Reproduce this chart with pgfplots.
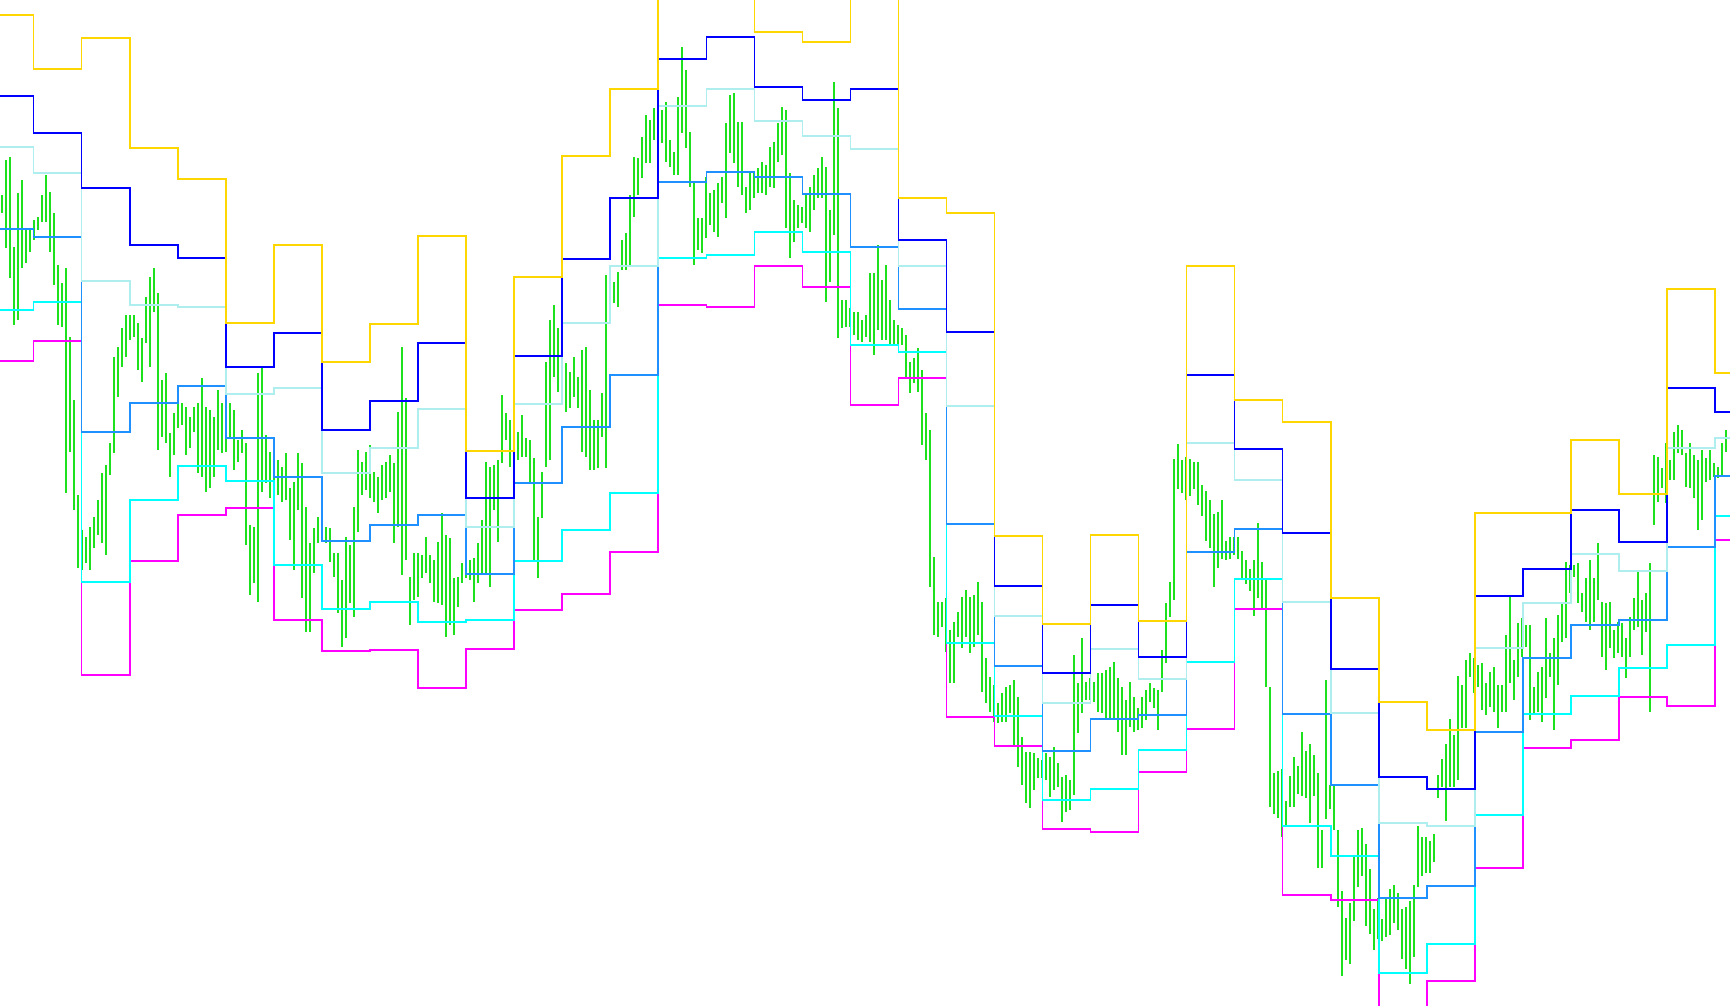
\documentclass[border=0pt]{standalone}
\usepackage{pgfplots}
\usepackage{pgfplotstable}
\pgfplotsset{compat=1.18}

\definecolor{barGreen}{RGB}{30,225,30}
\definecolor{rTwo}{RGB}{255,215,0}
\definecolor{rOne}{RGB}{0,0,255}
\definecolor{mid}{RGB}{175,238,238}
\definecolor{piv}{RGB}{30,144,255}
\definecolor{sOne}{RGB}{0,255,255}
\definecolor{sTwo}{RGB}{255,0,255}

% hourly bars: x, top, bottom (screen rows, y axis reversed)
\pgfplotstableread{
x lo hi
2 195 213
6 160 248
10 157 278
14 247 325
18 193 320
22 180 268
26 230 263
30 230 252
34 220 240
38 217 230
42 195 222
46 175 222
50 192 252
54 213 285
58 265 325
62 283 327
66 268 493
70 337 452
74 400 510
78 495 568
82 530 570
86 537 563
90 527 570
94 517 548
98 500 535
102 473 543
106 465 555
110 443 475
114 357 453
118 347 397
122 328 367
126 315 357
130 315 340
134 315 337
138 323 370
142 338 382
146 297 343
150 277 367
154 268 312
158 293 450
162 380 437
166 373 443
170 433 477
174 413 455
178 400 428
182 403 425
186 407 455
190 417 448
194 407 432
198 403 473
202 378 477
206 407 492
210 410 488
214 417 477
218 390 450
222 403 453
226 420 452
230 403 437
234 410 470
238 440 462
242 430 453
246 443 545
250 525 595
254 527 583
258 373 602
262 368 492
266 435 483
270 452 498
274 457 497
278 460 495
282 467 502
286 453 500
290 488 540
294 482 570
298 453 510
302 463 598
306 507 632
310 543 632
314 528 573
318 517 543
322 523 542
326 527 543
330 528 562
334 553 577
338 553 613
342 580 647
346 537 638
350 545 603
354 507 617
358 450 532
362 462 495
366 452 490
370 445 498
374 472 502
378 477 513
382 465 500
386 462 498
390 455 492
394 463 543
398 412 527
402 347 575
406 398 560
410 577 625
414 553 600
418 553 597
422 555 578
426 537 573
430 555 583
434 560 602
438 542 603
442 513 605
446 535 637
450 538 625
454 578 635
458 577 607
462 563 583
466 555 578
470 560 580
474 558 602
478 543 583
482 520 575
486 462 573
490 467 587
494 465 510
498 460 542
502 395 463
506 413 440
510 420 467
514 435 467
518 432 460
522 415 457
526 438 457
530 440 482
534 458 560
538 517 578
542 472 518
546 362 467
550 320 460
554 305 377
558 328 392
562 377 403
566 363 412
570 372 408
574 357 397
578 377 408
582 350 452
586 347 457
590 390 470
594 420 470
598 420 468
602 393 437
606 275 468
610 273 308
614 282 303
618 272 307
622 240 270
626 233 270
630 195 267
634 157 217
638 158 195
642 137 178
646 115 163
650 120 163
654 108 140
658 113 147
662 110 143
666 102 162
670 140 167
674 152 175
678 97 175
682 47 133
686 70 148
690 132 187
694 183 265
698 218 250
702 218 253
706 177 238
710 193 225
714 190 232
718 183 237
722 177 203
726 123 218
730 95 153
734 93 163
738 122 187
742 122 195
746 187 213
750 172 210
754 172 198
758 168 193
762 162 193
766 165 195
770 147 187
774 142 188
778 123 162
782 107 155
786 110 228
790 173 258
794 200 242
798 205 228
802 207 223
806 195 228
810 187 232
814 175 210
818 168 198
822 157 198
826 167 302
830 210 282
834 82 235
838 108 338
842 300 328
846 300 327
850 308 327
854 312 335
858 312 340
862 320 342
866 315 337
870 273 342
874 273 355
878 245 330
882 280 340
886 265 340
890 300 345
894 320 345
898 325 345
902 328 345
906 335 377
910 362 393
914 358 383
918 348 392
922 370 445
926 413 460
930 430 587
934 557 635
938 602 637
942 602 627
946 598 652
950 630 683
954 622 683
958 612 637
962 597 648
966 590 637
970 597 653
974 595 647
978 582 635
982 602 692
986 658 703
990 677 712
994 685 722
998 703 723
1002 693 722
1006 687 722
1010 685 713
1014 680 747
1018 697 767
1022 737 785
1026 752 803
1030 752 808
1034 753 790
1038 758 778
1042 760 778
1046 753 780
1050 757 797
1054 747 790
1058 763 787
1062 777 822
1066 775 812
1070 780 810
1074 655 795
1078 683 733
1082 638 713
1086 682 700
1090 678 700
1094 682 702
1098 673 712
1102 673 713
1106 670 718
1110 667 720
1114 662 718
1118 678 732
1122 687 755
1126 700 755
1130 682 727
1134 697 732
1138 708 730
1142 697 728
1146 690 720
1150 683 702
1154 688 708
1158 690 730
1162 650 692
1166 603 663
1170 582 617
1174 459 600
1178 444 489
1182 460 493
1186 457 500
1190 459 496
1194 462 489
1198 462 505
1202 485 516
1206 491 541
1210 500 548
1214 514 587
1218 512 568
1222 500 559
1226 541 560
1230 537 559
1234 537 555
1238 537 559
1242 551 578
1246 560 584
1250 569 591
1254 560 616
1258 523 598
1262 562 610
1266 580 687
1270 687 807
1274 773 814
1278 771 818
1282 769 837
1286 801 826
1290 776 807
1294 757 807
1298 766 794
1302 732 796
1306 751 798
1310 744 823
1314 755 796
1318 773 868
1322 830 868
1326 680 819
1330 785 809
1334 785 830
1338 830 907
1342 891 976
1346 918 960
1350 903 964
1354 855 921
1358 830 887
1362 828 876
1366 844 926
1370 869 934
1374 909 950
1378 898 939
1382 919 941
1386 898 937
1390 889 935
1394 885 923
1398 893 930
1402 909 959
1406 907 969
1410 901 984
1414 885 957
1418 826 887
1422 837 876
1426 837 873
1430 841 873
1434 834 862
1438 775 798
1442 759 787
1446 744 821
1450 719 787
1454 735 787
1458 676 780
1462 685 728
1466 660 728
1470 653 677
1474 658 693
1478 665 687
1482 663 710
1486 683 715
1490 672 707
1494 667 712
1498 685 728
1502 685 712
1506 635 712
1510 597 683
1514 660 700
1518 623 677
1522 618 657
1526 625 647
1530 625 720
1534 687 715
1538 672 712
1542 667 722
1546 618 698
1550 653 677
1554 638 730
1558 615 685
1562 603 642
1566 562 638
1570 565 593
1574 565 577
1578 563 603
1582 593 612
1586 578 622
1590 560 630
1594 578 622
1598 543 600
1602 602 657
1606 603 670
1610 602 648
1614 630 658
1618 622 653
1622 623 657
1626 638 678
1630 617 657
1634 598 630
1638 572 627
1642 600 655
1646 593 632
1650 563 712
1654 455 525
1658 457 502
1662 468 488
1666 443 503
1670 460 480
1674 432 480
1678 425 453
1682 430 455
1686 453 487
1690 443 488
1694 455 498
1698 460 530
1702 450 520
1706 458 482
1710 450 480
1714 463 477
1718 467 478
1722 443 475
1726 430 452
}\bars

\begin{document}
\begin{tikzpicture}
\begin{axis}[
    width=17.3cm, height=10.05cm,
    scale only axis,
    hide axis,
    xmin=0, xmax=1730,
    ymin=0, ymax=1005,
    y dir=reverse,
    clip=true,
    every axis plot/.append style={line width=0.42pt},
  ]
  % price bars
  \addplot[draw=none, mark=none,
    error bars/.cd, y dir=plus, y explicit, error mark=none,
    error bar style={draw=barGreen, line width=0.6pt}]
    table[x=x, y=lo, y error expr=\thisrow{hi}-\thisrow{lo}] {\bars};

  % daily levels
  \addplot[const plot, sTwo] coordinates {
    (-10,361) (33.7,341) (81.7,675) (129.8,561) (177.8,515) (225.9,508)
    (273.9,620) (321.9,651) (370,650) (418,688) (466.1,649) (514.1,610)
    (562.1,594) (610.2,552) (658.2,305) (706.3,307) (754.3,266) (802.3,287)
    (850.4,405) (898.4,378) (946.5,717) (994.5,746) (1042.5,829) (1090.6,832)
    (1138.6,772) (1186.7,729) (1234.7,609) (1282.7,895) (1330.8,900) (1378.8,1040)
    (1426.9,981) (1474.9,868) (1522.9,748) (1571,740) (1619,697) (1667,706)
    (1715.1,540) (1740,540)};
  \addplot[const plot, sOne] coordinates {
    (-10,310) (33.7,302) (81.7,582) (129.8,500) (177.8,466) (225.9,481)
    (273.9,565) (321.9,609) (370,602) (418,622) (466.1,620) (514.1,561)
    (562.1,530) (610.2,493) (658.2,258) (706.3,255) (754.3,232) (802.3,252)
    (850.4,345) (898.4,352) (946.5,643) (994.5,716) (1042.5,800) (1090.6,789)
    (1138.6,750) (1186.7,662) (1234.7,579) (1282.7,826) (1330.8,856) (1378.8,973)
    (1426.9,944) (1474.9,815) (1522.9,714) (1571,696) (1619,668) (1667,645)
    (1715.1,516) (1740,516)};
  \addplot[const plot, piv] coordinates {
    (-10,229) (33.7,237) (81.7,432) (129.8,403) (177.8,386) (225.9,438)
    (273.9,477) (321.9,541) (370,525) (418,515) (466.1,574) (514.1,483)
    (562.1,427) (610.2,375) (658.2,182) (706.3,172) (754.3,177) (802.3,194)
    (850.4,247) (898.4,309) (946.5,524) (994.5,666) (1042.5,751) (1090.6,719)
    (1138.6,715) (1186.7,552) (1234.7,529) (1282.7,714) (1330.8,785) (1378.8,898)
    (1426.9,886) (1474.9,732) (1522.9,658) (1571,625) (1619,620) (1667,547)
    (1715.1,476) (1740,476)};
  \addplot[const plot, mid] coordinates {
    (-10,147) (33.7,173) (81.7,281) (129.8,305) (177.8,307) (225.9,394)
    (273.9,388) (321.9,473) (370,448) (418,409) (466.1,527) (514.1,404)
    (562.1,323) (610.2,266) (658.2,106) (706.3,89) (754.3,121) (802.3,136)
    (850.4,149) (898.4,266) (946.5,406) (994.5,616) (1042.5,703) (1090.6,649)
    (1138.6,679) (1186.7,443) (1234.7,480) (1282.7,602) (1330.8,713) (1378.8,823)
    (1426.9,826) (1474.9,648) (1522.9,603) (1571,554) (1619,571) (1667,448)
    (1715.1,438) (1740,438)};
  \addplot[const plot, rOne] coordinates {
    (-10,96) (33.7,133) (81.7,188) (129.8,245) (177.8,258) (225.9,367)
    (273.9,333) (321.9,430) (370,401) (418,343) (466.1,498) (514.1,356)
    (562.1,259) (610.2,198) (658.2,59) (706.3,37) (754.3,87) (802.3,100)
    (850.4,89) (898.4,240) (946.5,332) (994.5,586) (1042.5,673) (1090.6,605)
    (1138.6,657) (1186.7,375) (1234.7,449) (1282.7,533) (1330.8,669) (1378.8,777)
    (1426.9,789) (1474.9,596) (1522.9,569) (1571,510) (1619,542) (1667,388)
    (1715.1,412) (1740,412)};
  \addplot[const plot, rTwo] coordinates {
    (-10,15) (33.7,69) (81.7,38) (129.8,148) (177.8,179) (225.9,323)
    (273.9,245) (321.9,362) (370,324) (418,236) (466.1,451) (514.1,277)
    (562.1,156) (610.2,89) (658.2,-30) (706.3,-30) (754.3,32) (802.3,42)
    (850.4,-30) (898.4,198) (946.5,213) (994.5,536) (1042.5,624) (1090.6,535)
    (1138.6,621) (1186.7,266) (1234.7,400) (1282.7,422) (1330.8,598) (1378.8,702)
    (1426.9,730) (1474.9,513) (1522.9,513) (1571,440) (1619,494) (1667,289)
    (1715.1,373) (1740,373)};
\end{axis}
\pgfresetboundingbox
\useasboundingbox (current axis.south west) rectangle (current axis.north east);
\end{tikzpicture}
\end{document}
